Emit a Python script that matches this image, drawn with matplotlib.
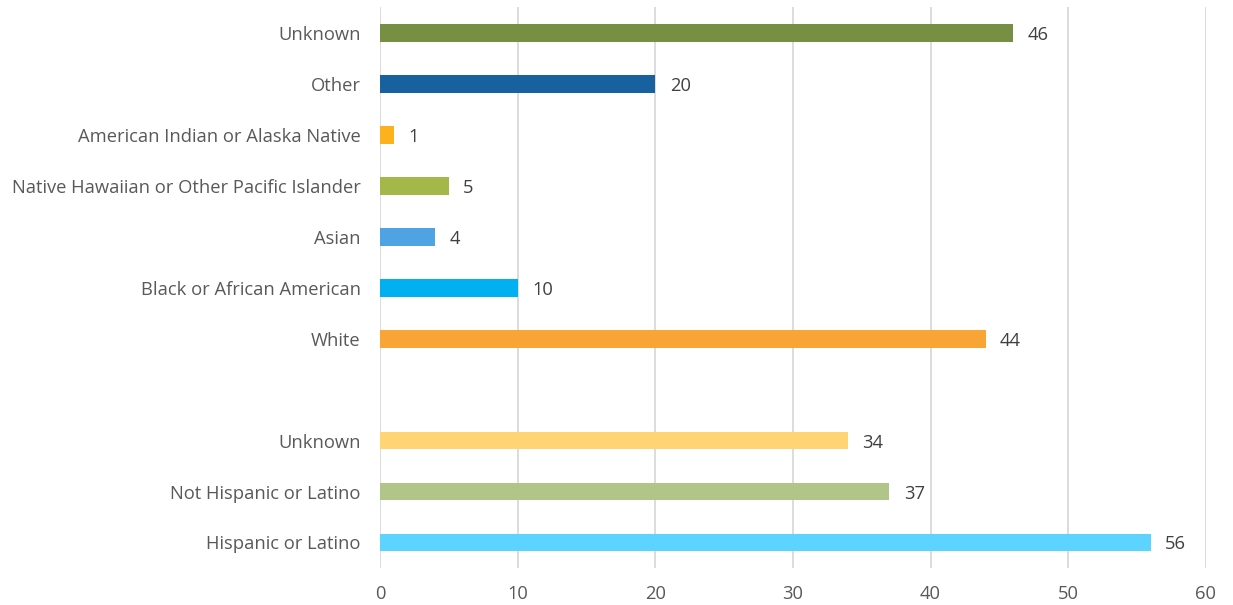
import matplotlib
matplotlib.use("Agg")
import matplotlib.pyplot as plt

# Categories listed bottom to top; an empty slot separates ethnicity from race
categories = [
    "Hispanic or Latino",
    "Not Hispanic or Latino",
    "Unknown",
    "",
    "White",
    "Black or African American",
    "Asian",
    "Native Hawaiian or Other Pacific Islander",
    "American Indian or Alaska Native",
    "Other",
    "Unknown",
]
values = [56, 37, 34, None, 44, 10, 4, 5, 1, 20, 46]
colors = [
    "#5DD4FF", "#B2C588", "#FFD574", None,
    "#F8A535", "#00B0F0", "#4FA3E3", "#A4B84A", "#FBB21C", "#17629E", "#778F42",
]
x_ticks = [0, 10, 20, 30, 40, 50, 60]

text_color = "#595959"
value_color = "#404040"
fs = 13.2
plt.rcParams["font.family"] = ["Open Sans", "DejaVu Sans"]

fig = plt.figure(figsize=(12.33, 6.05), dpi=100)
ax = fig.add_axes([0.3082, 0.0612, 0.978 - 0.3082, 0.988 - 0.0612])

for i, (v, c) in enumerate(zip(values, colors)):
    if v is None:
        continue
    ax.barh(i, v, height=0.35, color=c, zorder=3)
    ax.text(v + 1.05, i, f"{v}", va="center_baseline", ha="left",
            fontsize=fs, color=value_color)

ax.set_xlim(0, 60)
ax.set_ylim(-0.5, len(categories) - 0.5)
ax.set_xticks(x_ticks)
ax.set_yticks(range(len(categories)))
ax.set_yticklabels(categories)
ax.tick_params(axis="both", length=0, labelsize=fs, labelcolor=text_color)
ax.tick_params(axis="y", pad=14)
ax.tick_params(axis="x", pad=12)

ax.grid(axis="x", color="#D9D9D9", linewidth=1.3, zorder=0)
ax.set_axisbelow(True)
for s in ax.spines.values():
    s.set_visible(False)

fig.savefig("out.png", dpi=100, facecolor="white")
